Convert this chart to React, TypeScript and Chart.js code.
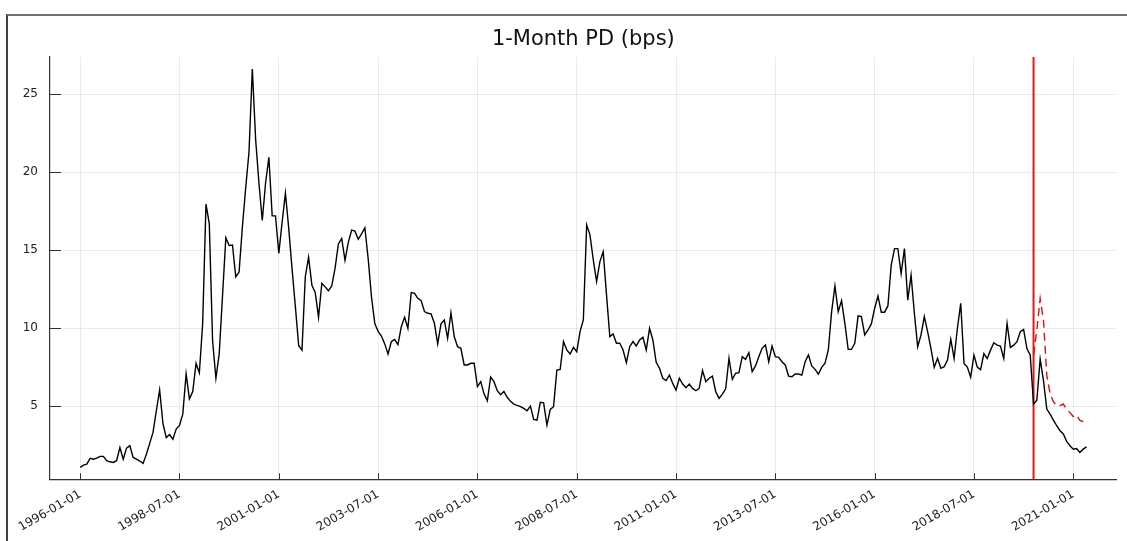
import React, { useEffect, useRef } from 'react';
import { Chart, registerables } from 'chart.js';

Chart.register(...registerables);

// Monthly series, first month = 1996-01 (index 0)
const TITLE = '1-Month PD (bps)';

const X_TICK_MONTHS = [0, 30, 60, 90, 120, 150, 180, 210, 240, 270, 300];
const X_TICK_LABELS = [
  '1996-01-01', '1998-07-01', '2001-01-01', '2003-07-01', '2006-01-01', '2008-07-01',
  '2011-01-01', '2013-07-01', '2016-01-01', '2018-07-01', '2021-01-01',
];
const Y_TICKS = [5, 10, 15, 20, 25];

const PD_ACTUAL = [
  // 1996
  1.09, 1.24, 1.30, 1.67, 1.62, 1.69, 1.80, 1.80, 1.52, 1.45, 1.41, 1.52,
  // 1997
  2.37, 1.62, 2.33, 2.48, 1.73, 1.62, 1.50, 1.35, 1.94, 2.63, 3.33, 4.72,
  // 1998
  6.05, 3.90, 3.00, 3.20, 2.90, 3.55, 3.78, 4.50, 7.08, 5.48, 5.95, 7.75,
  // 1999
  7.15, 10.30, 17.95, 16.70, 9.20, 6.80, 8.37, 12.10, 15.80, 15.30, 15.33, 13.30,
  // 2000
  13.60, 16.50, 19.00, 21.30, 26.60, 22.10, 19.30, 16.90, 19.30, 20.95, 17.20, 17.20,
  // 2001
  14.80, 16.80, 18.65, 16.40, 13.80, 11.40, 8.90, 8.60, 13.30, 14.55, 12.75, 12.30,
  // 2002
  10.70, 12.88, 12.65, 12.40, 12.72, 13.85, 15.40, 15.75, 14.35, 15.50, 16.28, 16.22,
  // 2003
  15.70, 16.05, 16.43, 14.45, 12.00, 10.30, 9.80, 9.50, 9.00, 8.35, 9.15, 9.28,
  // 2004
  8.95, 10.10, 10.70, 10.00, 12.29, 12.24, 11.92, 11.77, 11.07, 10.96, 10.92, 10.32,
  // 2005
  9.00, 10.28, 10.53, 9.36, 11.00, 9.47, 8.82, 8.72, 7.65, 7.65, 7.76, 7.76,
  // 2006
  6.26, 6.58, 5.80, 5.36, 6.88, 6.58, 6.00, 5.75, 5.96, 5.58, 5.32, 5.15,
  // 2007
  5.06, 4.98, 4.87, 4.72, 5.02, 4.17, 4.12, 5.26, 5.23, 3.80, 4.80, 4.98,
  // 2008
  7.33, 7.37, 9.15, 8.61, 8.35, 8.78, 8.50, 9.79, 10.53, 16.62, 15.98, 14.38,
  // 2009
  12.99, 14.27, 14.90, 12.14, 9.47, 9.64, 9.04, 9.04, 8.61, 7.80, 8.82, 9.15,
  // 2010
  8.87, 9.25, 9.42, 8.61, 10.00, 9.25, 7.82, 7.44, 6.80, 6.65, 7.01, 6.47,
  // 2011
  6.05, 6.80, 6.43, 6.20, 6.43, 6.15, 6.00, 6.15, 7.29, 6.58, 6.80, 6.94,
  // 2012
  5.94, 5.51, 5.78, 6.12, 8.08, 6.73, 7.12, 7.16, 8.18, 8.01, 8.44, 7.22,
  // 2013
  7.59, 8.18, 8.72, 8.93, 7.86, 8.87, 8.18, 8.14, 7.86, 7.65, 6.94, 6.90,
  // 2014
  7.07, 7.07, 7.00, 7.86, 8.29, 7.59, 7.37, 7.07, 7.50, 7.76, 8.61, 11.07,
  // 2015
  12.71, 11.07, 11.77, 10.32, 8.65, 8.65, 9.04, 10.79, 10.75, 9.57, 9.89, 10.28,
  // 2016
  11.28, 12.07, 11.03, 11.03, 11.43, 14.04, 15.10, 15.10, 13.50, 15.10, 11.80, 13.40,
  // 2017
  10.96, 8.82, 9.57, 10.75, 9.79, 8.72, 7.50, 8.08, 7.44, 7.54, 7.97, 9.30,
  // 2018
  8.06, 10.00, 11.60, 7.74, 7.52, 6.87, 8.28, 7.52, 7.35, 8.38, 8.06, 8.60,
  // 2019
  9.07, 8.92, 8.86, 8.06, 10.32, 8.77, 8.92, 9.14, 9.78, 9.93, 8.70, 8.28,
  // 2020
  5.15, 5.40, 8.03, 6.65, 4.83, 4.50, 4.12, 3.76, 3.44, 3.23, 2.76, 2.48,
  // 2021
  2.26, 2.30, 2.05, 2.26, 2.41,
];

// Counterfactual series starting 2020-01 (month index 288)
const FORECAST_START = 288;
const PD_FORECAST = [
  8.30, 9.90, 11.90, 10.50, 7.00, 5.80, 5.30, 5.05, 5.05, 5.15, 4.80, 4.60,
  4.35, 4.45, 4.10, 4.03,
];

// Vertical marker at 2020-01-01
const MARKER_MONTH = 288;

const X_MIN = -9.12;
const X_MAX = 313.12;
const Y_MIN = 0.33;
const Y_MAX = 27.37;

const FONT = "'DejaVu Sans', sans-serif";

export default function App() {
  const ref = useRef<HTMLCanvasElement>(null);

  useEffect(() => {
    const canvas = ref.current;
    if (!canvas) return;

    const inwardTicks = {
      id: 'inwardTicks',
      afterDatasetsDraw(chart: any) {
        const { ctx, chartArea, scales } = chart;
        ctx.save();
        ctx.strokeStyle = '#333';
        ctx.lineWidth = 1;
        ctx.beginPath();
        X_TICK_MONTHS.forEach((m) => {
          const px = Math.round(scales.x.getPixelForValue(m)) + 0.5;
          ctx.moveTo(px, chartArea.bottom);
          ctx.lineTo(px, chartArea.bottom - 6);
        });
        Y_TICKS.forEach((v) => {
          const py = Math.round(scales.y.getPixelForValue(v)) + 0.5;
          ctx.moveTo(chartArea.left, py);
          ctx.lineTo(chartArea.left + 11, py);
        });
        ctx.stroke();
        ctx.restore();
      },
    };

    const titlePlugin = {
      id: 'plotTitle',
      afterDraw(chart: any) {
        const { ctx, chartArea } = chart;
        ctx.save();
        ctx.font = `21px ${FONT}`;
        ctx.fillStyle = '#111';
        ctx.textAlign = 'center';
        ctx.textBaseline = 'middle';
        ctx.fillText(TITLE, (chartArea.left + chartArea.right) / 2, 40);
        ctx.restore();
      },
    };

    const chart = new Chart(canvas, {
      type: 'line',
      data: {
        datasets: [
          {
            label: 'actual',
            data: PD_ACTUAL.map((v, i) => ({ x: i, y: v })),
            borderColor: '#000',
            borderWidth: 1.4,
            pointRadius: 0,
            tension: 0,
            fill: false,
          },
          {
            label: 'forecast',
            data: PD_FORECAST.map((v, i) => ({ x: FORECAST_START + i, y: v })),
            borderColor: 'rgb(205,20,20)',
            borderWidth: 1.4,
            borderDash: [8, 5],
            pointRadius: 0,
            tension: 0,
            fill: false,
          },
          {
            label: 'marker',
            data: [
              { x: MARKER_MONTH, y: Y_MIN },
              { x: MARKER_MONTH, y: Y_MAX },
            ],
            borderColor: 'rgb(225,25,25)',
            borderWidth: 2,
            pointRadius: 0,
            fill: false,
          },
        ],
      },
      options: {
        animation: false,
        responsive: false,
        devicePixelRatio: 1,
        layout: { padding: { left: 0, right: 10.3, top: 57, bottom: 0 } },
        plugins: {
          legend: { display: false },
          title: { display: false },
          tooltip: { enabled: false },
        },
        scales: {
          x: {
            type: 'linear',
            min: X_MIN,
            max: X_MAX,
            afterBuildTicks: (s: any) => {
              s.ticks = X_TICK_MONTHS.map((v) => ({ value: v }));
            },
            afterFit: (s: any) => {
              s.height = 61.7;
            },
            ticks: {
              autoSkip: false,
              minRotation: 30,
              maxRotation: 30,
              padding: 8,
              color: '#222',
              font: { family: FONT, size: 12 },
              callback: (_v: any, i: number) => X_TICK_LABELS[i],
            },
            grid: { color: 'rgba(0,0,0,0.08)', lineWidth: 1, drawTicks: false },
            border: { color: '#333', width: 1.2 },
          },
          y: {
            type: 'linear',
            min: Y_MIN,
            max: Y_MAX,
            afterBuildTicks: (s: any) => {
              s.ticks = Y_TICKS.map((v) => ({ value: v }));
            },
            afterFit: (s: any) => {
              s.width = 50;
            },
            ticks: {
              padding: 12,
              color: '#222',
              font: { family: FONT, size: 12 },
            },
            grid: { color: 'rgba(0,0,0,0.08)', lineWidth: 1, drawTicks: false },
            border: { color: '#333', width: 1.2 },
          },
        },
      },
      plugins: [inwardTicks, titlePlugin],
    });

    return () => chart.destroy();
  }, []);

  return (
    <div style={{ position: 'absolute', left: 0, top: 0, width: 1127, height: 541, background: '#fff', overflow: 'hidden' }}>
      <div
        style={{
          position: 'absolute',
          left: 6,
          top: 14,
          right: -10,
          bottom: -10,
          borderTop: '2px solid #707070',
          borderLeft: '2px solid #404040',
        }}
      />
      <canvas ref={ref} width={1127} height={541} style={{ position: 'absolute', left: 0, top: 0 }} />
    </div>
  );
}
